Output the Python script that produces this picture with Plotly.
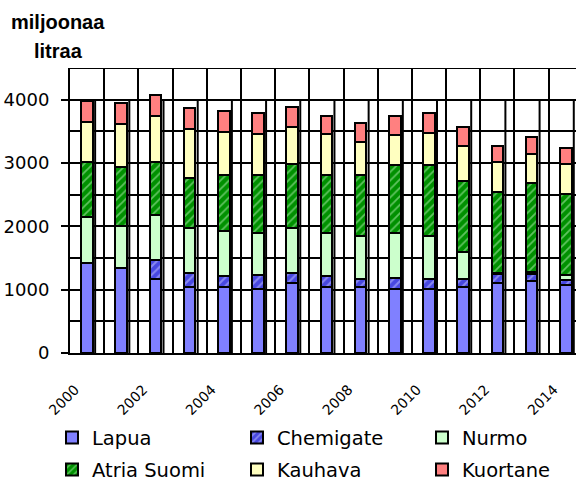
import plotly.graph_objects as go

years = [2000, 2001, 2002, 2003, 2004, 2005, 2006, 2007, 2008, 2009, 2010, 2011, 2012, 2013, 2014]
lapua = [1427, 1338, 1169, 1050, 1045, 1010, 1100, 1047, 1047, 1006, 1006, 1047, 1098, 1137, 1074]
chemigate = [0, 0, 300, 219, 171, 222, 169, 169, 117, 174, 163, 117, 150, 111, 84]
nurmo = [726, 673, 711, 701, 716, 659, 710, 675, 684, 711, 679, 427, 20, 30, 74]
atria = [869, 923, 842, 800, 880, 921, 1007, 921, 964, 1079, 1122, 1131, 1280, 1403, 1275]
kauhava = [632, 684, 722, 764, 675, 652, 589, 643, 517, 474, 500, 548, 474, 463, 479]
kuortane = [332, 336, 332, 332, 336, 326, 306, 289, 300, 300, 316, 296, 253, 263, 247]

y_tick_values = [0, 1000, 2000, 3000, 4000]
x_label_years = [2000, 2002, 2004, 2006, 2008, 2010, 2012, 2014]

FONT = "Liberation Sans, Arial, sans-serif"
WIDE = "DejaVu Sans, Liberation Sans, sans-serif"
idx = list(range(len(years)))

series = [
    ("Lapua", lapua, dict(color="#8080FF"), "legend", 140),
    ("Chemigate", chemigate, dict(color="#4848E0", pattern=dict(shape="/", fgcolor="#C8C8FF", bgcolor="#4848E0", size=6, solidity=0.35)), "legend", 140),
    ("Nurmo", nurmo, dict(color="#CCFFCC"), "legend", 70),
    ("Atria Suomi", atria, dict(color="#009000", pattern=dict(shape="/", fgcolor="#C0F5C0", bgcolor="#009000", size=6, solidity=0.3)), "legend2", 140),
    ("Kauhava", kauhava, dict(color="#FFFFC0"), "legend2", 140),
    ("Kuortane", kuortane, dict(color="#FF8080"), "legend2", 90),
]

fig = go.Figure()
for name, vals, mk, lg, lw in series:
    mk = dict(mk)
    mk["line"] = dict(color="black", width=2)
    fig.add_trace(go.Bar(x=idx, y=vals, name=name, marker=mk, width=0.34, legend=lg, legendwidth=lw))

# extra partial vertical grid lines beside each bar (below traces)
for i in idx:
    fig.add_shape(type="line", xref="x", yref="y", x0=i + 0.235, x1=i + 0.235, y0=0, y1=4000,
                  line=dict(color="black", width=2), layer="below")
# top border
fig.add_shape(type="line", xref="paper", yref="y", x0=0, x1=1, y0=4500, y1=4500,
              line=dict(color="black", width=2), layer="below")

label_pos = [years.index(y) for y in x_label_years]

fig.update_layout(
    width=576, height=481,
    margin=dict(l=70, r=0, t=68, b=128, autoexpand=False),
    paper_bgcolor="white", plot_bgcolor="white",
    barmode="stack",
    font=dict(family=FONT, color="black"),
    xaxis=dict(
        range=[-0.5, 14.3], showline=True, linecolor="black", linewidth=2,
        tickmode="array", tickvals=label_pos, ticktext=[str(y) for y in x_label_years],
        tickangle=-45, ticks="", showgrid=False, zeroline=False,
        tickfont=dict(size=14, family=WIDE, color="black"),
        ticklabelstandoff=21, ticklabelshift=-12, automargin=False,
        minor=dict(tickmode="array", tickvals=[i + 0.5 for i in idx], showgrid=True,
                   gridcolor="black", gridwidth=2, ticks=""),
    ),
    yaxis=dict(
        range=[0, 4500], showline=True, linecolor="black", linewidth=2,
        tickmode="array", tickvals=y_tick_values, ticks="outside", ticklen=7,
        tickwidth=2, tickcolor="black", showgrid=True, gridcolor="black", gridwidth=2,
        zeroline=False, tickfont=dict(size=18, family=WIDE, color="black"),
        ticklabelstandoff=8, automargin=False,
        minor=dict(dtick=500, showgrid=True, gridcolor="black", gridwidth=2, ticks=""),
    ),
    legend=dict(orientation="h", x=-0.0356, xanchor="left", y=-0.298, yanchor="middle",
                traceorder="normal",
                font=dict(size=19.5, family=WIDE, color="black"), bgcolor="rgba(0,0,0,0)"),
    legend2=dict(orientation="h", x=-0.0356, xanchor="left", y=-0.41, yanchor="middle",
                 traceorder="normal",
                 font=dict(size=19.5, family=WIDE, color="black"), bgcolor="rgba(0,0,0,0)"),
    annotations=[
        dict(text="<b>miljoonaa</b>", xref="paper", yref="paper", x=-0.0237, y=1.161,
             xanchor="center", yanchor="middle", showarrow=False,
             font=dict(size=20, family=FONT, color="black")),
        dict(text="<b>litraa</b>", xref="paper", yref="paper", x=-0.0237, y=1.061,
             xanchor="center", yanchor="middle", showarrow=False,
             font=dict(size=20, family=FONT, color="black")),
    ],
    showlegend=True,
)

fig.write_html("out.html", config={"displayModeBar": False},
               post_script="document.body.style.margin='0';document.body.style.overflow='hidden';")
